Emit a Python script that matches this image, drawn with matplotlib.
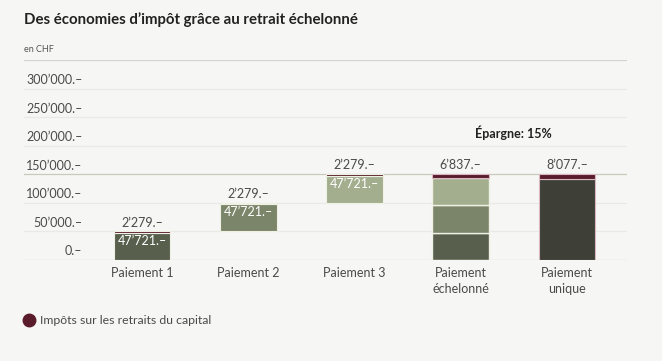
import numpy as np
import matplotlib.pyplot as plt
from matplotlib.lines import Line2D

plt.rcParams['font.family'] = ['Lato', 'DejaVu Sans']

categories = ['Paiement 1', 'Paiement 2', 'Paiement 3', 'Paiement\néchelonné', 'Paiement\nunique']
single_capital = [47721, 47721, 47721]
single_tax = [2279, 2279, 2279]
staggered_tax = 6837
unique_capital = 141923
unique_tax = 8077
yticks = [0, 50000, 100000, 150000, 200000, 250000, 300000]

bg = '#f6f6f5'
tax_col = '#5a1b2b'
seg_cols = ['#585f4d', '#7b8569', '#a3ae8f']
unique_col = '#3e4038'
sep = '#eef1e4'
txt = '#4a4a4a'


def fmt(v):
    return f'{v:,}'.replace(',', '\u2019') + '.\u2013'


fig = plt.figure(figsize=(6.62, 3.61), dpi=100, facecolor=bg)
ax = fig.add_axes([24 / 662, 101 / 361, 603 / 662, 200 / 361])
ax.set_facecolor(bg)
ax.set_xlim(-1.11, 4.565)
ax.set_ylim(0, 350000)
for s in ax.spines.values():
    s.set_visible(False)
ax.set_xticks([])
ax.set_yticks([])

# gridlines
for v in yticks + [350000]:
    c = '#e9e9e6'
    if v in (0, 350000):
        c = '#d4d4ce'
    if v == 150000:
        c = '#c9cabb'
    ax.axhline(v, color=c, lw=0.9, zorder=0)
    if v < 350000:
        ax.text(-0.56, v + 4500, fmt(v), ha='right', va='bottom', fontsize=9, color=txt)

w = 0.535
# single payments, floating on cumulative totals
bottom = 0
for i in range(3):
    ax.bar(i, single_capital[i], w, bottom=bottom, color=seg_cols[i], edgecolor=sep, lw=0.8, zorder=2)
    top = bottom + single_capital[i]
    ax.bar(i, single_tax[i], w, bottom=top, color=tax_col, edgecolor=sep, lw=0.8, zorder=2)
    ax.text(i, top - 3500, fmt(single_capital[i]), ha='center', va='top', fontsize=9, color='white', zorder=3)
    ax.text(i, top + single_tax[i] + 5000, fmt(single_tax[i]), ha='center', va='bottom', fontsize=9, color=txt)
    bottom = top + single_tax[i]

# staggered payment stacked
bottom = 0
for i in range(3):
    ax.bar(3, single_capital[i], w, bottom=bottom, color=seg_cols[i], edgecolor=sep, lw=1.0, zorder=2)
    bottom += single_capital[i]
ax.bar(3, staggered_tax, w, bottom=bottom, color=tax_col, edgecolor='#d9b9bf', lw=0.8, zorder=2)
ax.text(3, bottom + staggered_tax + 5000, fmt(staggered_tax), ha='center', va='bottom', fontsize=9, color=txt)

# unique payment
ax.bar(4, unique_capital, w, color=unique_col, edgecolor='#d9b9bf', lw=0.8, zorder=2)
ax.bar(4, unique_tax, w, bottom=unique_capital, color=tax_col, edgecolor='#d9b9bf', lw=0.8, zorder=2)
ax.text(4, unique_capital + unique_tax + 5000, fmt(unique_tax), ha='center', va='bottom', fontsize=9, color=txt)

ax.text(3.5, 222000, '\u00c9pargne: 15%', ha='center', va='center', fontsize=9, fontweight='bold', color='#222222')

for i, c in enumerate(categories):
    ax.text(i, -12000, c, ha='center', va='top', fontsize=9, color=txt, linespacing=1.45)

fig.text(24 / 662, 1 - 20 / 361, 'Des économies d\u2019impôt grâce au retrait échelonné',
         ha='left', va='center', fontsize=10.8, fontweight='bold', color='#222222')
fig.text(24 / 662, 1 - 50 / 361, 'en CHF', ha='left', va='center', fontsize=6.5, color='#555555')

fig.lines.append(Line2D([29 / 662], [1 - 320 / 361], marker='o', markersize=9, color=tax_col,
                        transform=fig.transFigure, linestyle='none'))
fig.text(40 / 662, 1 - 320 / 361, 'Impôts sur les retraits du capital', ha='left', va='center',
         fontsize=8.8, color=txt)

plt.savefig('out.png', dpi=100, facecolor=bg)
